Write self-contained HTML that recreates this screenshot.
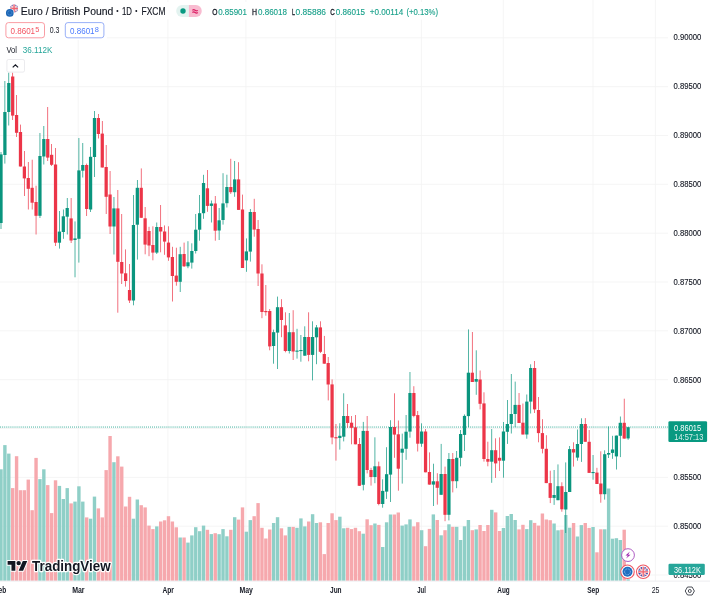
<!DOCTYPE html>
<html><head><meta charset="utf-8"><title>EURGBP</title>
<style>html,body{margin:0;padding:0;background:#fff;overflow:hidden}svg{display:block;filter:blur(0.35px)}text{font-family:"Liberation Sans",sans-serif}</style>
</head><body>
<svg width="710" height="600" viewBox="0 0 710 600">
<rect width="710" height="600" fill="#fff"/>
<g stroke="#f3f3f3" stroke-width="0.8">
<line x1="0" x2="668" y1="37.80" y2="37.80"/>
<line x1="0" x2="668" y1="86.64" y2="86.64"/>
<line x1="0" x2="668" y1="135.48" y2="135.48"/>
<line x1="0" x2="668" y1="184.32" y2="184.32"/>
<line x1="0" x2="668" y1="233.16" y2="233.16"/>
<line x1="0" x2="668" y1="282.00" y2="282.00"/>
<line x1="0" x2="668" y1="330.84" y2="330.84"/>
<line x1="0" x2="668" y1="379.68" y2="379.68"/>
<line x1="0" x2="668" y1="428.52" y2="428.52"/>
<line x1="0" x2="668" y1="477.36" y2="477.36"/>
<line x1="0" x2="668" y1="526.20" y2="526.20"/>
<line x1="0" x2="668" y1="575.04" y2="575.04"/>
<line x1="78.20" x2="78.20" y1="0" y2="581"/>
<line x1="167.90" x2="167.90" y1="0" y2="581"/>
<line x1="245.90" x2="245.90" y1="0" y2="581"/>
<line x1="335.60" x2="335.60" y1="0" y2="581"/>
<line x1="421.40" x2="421.40" y1="0" y2="581"/>
<line x1="503.30" x2="503.30" y1="0" y2="581"/>
<line x1="593.00" x2="593.00" y1="0" y2="581"/>
<line x1="655.40" x2="655.40" y1="0" y2="581"/>
</g>
<g>
<rect x="-0.70" y="469.30" width="3.4" height="111.50" fill="#8fcfc7"/>
<rect x="3.19" y="445.10" width="3.4" height="135.70" fill="#8fcfc7"/>
<rect x="7.09" y="453.60" width="3.4" height="127.20" fill="#8fcfc7"/>
<rect x="10.99" y="488.10" width="3.4" height="92.70" fill="#f6a8ad"/>
<rect x="14.88" y="456.20" width="3.4" height="124.60" fill="#f6a8ad"/>
<rect x="18.78" y="490.20" width="3.4" height="90.60" fill="#f6a8ad"/>
<rect x="22.67" y="490.20" width="3.4" height="90.60" fill="#f6a8ad"/>
<rect x="26.57" y="479.60" width="3.4" height="101.20" fill="#f6a8ad"/>
<rect x="30.46" y="510.20" width="3.4" height="70.60" fill="#f6a8ad"/>
<rect x="34.35" y="457.90" width="3.4" height="122.90" fill="#f6a8ad"/>
<rect x="38.25" y="479.10" width="3.4" height="101.70" fill="#8fcfc7"/>
<rect x="42.14" y="469.30" width="3.4" height="111.50" fill="#8fcfc7"/>
<rect x="46.04" y="485.10" width="3.4" height="95.70" fill="#f6a8ad"/>
<rect x="49.93" y="513.10" width="3.4" height="67.70" fill="#f6a8ad"/>
<rect x="53.83" y="480.30" width="3.4" height="100.50" fill="#f6a8ad"/>
<rect x="57.72" y="485.90" width="3.4" height="94.90" fill="#8fcfc7"/>
<rect x="61.62" y="499.00" width="3.4" height="81.80" fill="#8fcfc7"/>
<rect x="65.52" y="488.10" width="3.4" height="92.70" fill="#8fcfc7"/>
<rect x="69.41" y="503.40" width="3.4" height="77.40" fill="#f6a8ad"/>
<rect x="73.30" y="501.60" width="3.4" height="79.20" fill="#8fcfc7"/>
<rect x="77.20" y="486.30" width="3.4" height="94.50" fill="#8fcfc7"/>
<rect x="81.09" y="501.60" width="3.4" height="79.20" fill="#8fcfc7"/>
<rect x="84.99" y="517.40" width="3.4" height="63.40" fill="#f6a8ad"/>
<rect x="88.88" y="518.70" width="3.4" height="62.10" fill="#8fcfc7"/>
<rect x="92.78" y="496.60" width="3.4" height="84.20" fill="#8fcfc7"/>
<rect x="96.67" y="508.40" width="3.4" height="72.40" fill="#f6a8ad"/>
<rect x="100.57" y="517.40" width="3.4" height="63.40" fill="#f6a8ad"/>
<rect x="104.47" y="470.10" width="3.4" height="110.70" fill="#f6a8ad"/>
<rect x="108.36" y="436.00" width="3.4" height="144.80" fill="#f6a8ad"/>
<rect x="112.25" y="462.20" width="3.4" height="118.60" fill="#8fcfc7"/>
<rect x="116.15" y="456.30" width="3.4" height="124.50" fill="#f6a8ad"/>
<rect x="120.05" y="466.60" width="3.4" height="114.20" fill="#f6a8ad"/>
<rect x="123.94" y="506.50" width="3.4" height="74.30" fill="#f6a8ad"/>
<rect x="127.83" y="496.80" width="3.4" height="84.00" fill="#f6a8ad"/>
<rect x="131.73" y="518.70" width="3.4" height="62.10" fill="#8fcfc7"/>
<rect x="135.62" y="499.50" width="3.4" height="81.30" fill="#8fcfc7"/>
<rect x="139.52" y="505.20" width="3.4" height="75.60" fill="#f6a8ad"/>
<rect x="143.42" y="507.40" width="3.4" height="73.40" fill="#f6a8ad"/>
<rect x="147.31" y="525.60" width="3.4" height="55.20" fill="#f6a8ad"/>
<rect x="151.21" y="529.10" width="3.4" height="51.70" fill="#f6a8ad"/>
<rect x="155.10" y="526.40" width="3.4" height="54.40" fill="#8fcfc7"/>
<rect x="159.00" y="521.50" width="3.4" height="59.30" fill="#f6a8ad"/>
<rect x="162.89" y="520.30" width="3.4" height="60.50" fill="#f6a8ad"/>
<rect x="166.79" y="516.20" width="3.4" height="64.60" fill="#f6a8ad"/>
<rect x="170.68" y="521.50" width="3.4" height="59.30" fill="#f6a8ad"/>
<rect x="174.58" y="527.30" width="3.4" height="53.50" fill="#f6a8ad"/>
<rect x="178.47" y="537.50" width="3.4" height="43.30" fill="#8fcfc7"/>
<rect x="182.37" y="537.50" width="3.4" height="43.30" fill="#f6a8ad"/>
<rect x="186.26" y="542.60" width="3.4" height="38.20" fill="#8fcfc7"/>
<rect x="190.16" y="535.40" width="3.4" height="45.40" fill="#8fcfc7"/>
<rect x="194.05" y="527.20" width="3.4" height="53.60" fill="#8fcfc7"/>
<rect x="197.95" y="531.20" width="3.4" height="49.60" fill="#8fcfc7"/>
<rect x="201.84" y="525.60" width="3.4" height="55.20" fill="#8fcfc7"/>
<rect x="205.74" y="529.80" width="3.4" height="51.00" fill="#f6a8ad"/>
<rect x="209.63" y="534.10" width="3.4" height="46.70" fill="#8fcfc7"/>
<rect x="213.53" y="533.20" width="3.4" height="47.60" fill="#f6a8ad"/>
<rect x="217.42" y="534.20" width="3.4" height="46.60" fill="#8fcfc7"/>
<rect x="221.32" y="529.10" width="3.4" height="51.70" fill="#8fcfc7"/>
<rect x="225.21" y="536.30" width="3.4" height="44.50" fill="#8fcfc7"/>
<rect x="229.11" y="529.80" width="3.4" height="51.00" fill="#f6a8ad"/>
<rect x="233.00" y="517.20" width="3.4" height="63.60" fill="#8fcfc7"/>
<rect x="236.90" y="519.60" width="3.4" height="61.20" fill="#f6a8ad"/>
<rect x="240.79" y="507.40" width="3.4" height="73.40" fill="#f6a8ad"/>
<rect x="244.69" y="531.70" width="3.4" height="49.10" fill="#8fcfc7"/>
<rect x="248.58" y="520.10" width="3.4" height="60.70" fill="#8fcfc7"/>
<rect x="252.48" y="516.20" width="3.4" height="64.60" fill="#f6a8ad"/>
<rect x="256.37" y="503.10" width="3.4" height="77.70" fill="#f6a8ad"/>
<rect x="260.26" y="527.80" width="3.4" height="53.00" fill="#f6a8ad"/>
<rect x="264.16" y="538.50" width="3.4" height="42.30" fill="#f6a8ad"/>
<rect x="268.06" y="529.50" width="3.4" height="51.30" fill="#f6a8ad"/>
<rect x="271.95" y="523.00" width="3.4" height="57.80" fill="#8fcfc7"/>
<rect x="275.85" y="517.20" width="3.4" height="63.60" fill="#8fcfc7"/>
<rect x="279.74" y="528.30" width="3.4" height="52.50" fill="#f6a8ad"/>
<rect x="283.63" y="535.40" width="3.4" height="45.40" fill="#f6a8ad"/>
<rect x="287.53" y="526.90" width="3.4" height="53.90" fill="#8fcfc7"/>
<rect x="291.43" y="526.90" width="3.4" height="53.90" fill="#f6a8ad"/>
<rect x="295.32" y="527.80" width="3.4" height="53.00" fill="#8fcfc7"/>
<rect x="299.22" y="518.40" width="3.4" height="62.40" fill="#8fcfc7"/>
<rect x="303.11" y="526.40" width="3.4" height="54.40" fill="#8fcfc7"/>
<rect x="307.00" y="521.50" width="3.4" height="59.30" fill="#f6a8ad"/>
<rect x="310.90" y="514.20" width="3.4" height="66.60" fill="#8fcfc7"/>
<rect x="314.80" y="523.00" width="3.4" height="57.80" fill="#8fcfc7"/>
<rect x="318.69" y="522.30" width="3.4" height="58.50" fill="#f6a8ad"/>
<rect x="322.59" y="554.10" width="3.4" height="26.70" fill="#f6a8ad"/>
<rect x="326.48" y="523.00" width="3.4" height="57.80" fill="#f6a8ad"/>
<rect x="330.38" y="513.30" width="3.4" height="67.50" fill="#f6a8ad"/>
<rect x="334.27" y="520.10" width="3.4" height="60.70" fill="#f6a8ad"/>
<rect x="338.17" y="516.70" width="3.4" height="64.10" fill="#8fcfc7"/>
<rect x="342.06" y="528.30" width="3.4" height="52.50" fill="#8fcfc7"/>
<rect x="345.96" y="527.80" width="3.4" height="53.00" fill="#f6a8ad"/>
<rect x="349.85" y="529.10" width="3.4" height="51.70" fill="#f6a8ad"/>
<rect x="353.75" y="527.80" width="3.4" height="53.00" fill="#f6a8ad"/>
<rect x="357.64" y="531.20" width="3.4" height="49.60" fill="#f6a8ad"/>
<rect x="361.54" y="533.70" width="3.4" height="47.10" fill="#8fcfc7"/>
<rect x="365.43" y="519.30" width="3.4" height="61.50" fill="#f6a8ad"/>
<rect x="369.32" y="525.20" width="3.4" height="55.60" fill="#f6a8ad"/>
<rect x="373.22" y="523.50" width="3.4" height="57.30" fill="#8fcfc7"/>
<rect x="377.12" y="524.90" width="3.4" height="55.90" fill="#f6a8ad"/>
<rect x="381.01" y="547.00" width="3.4" height="33.80" fill="#8fcfc7"/>
<rect x="384.91" y="522.30" width="3.4" height="58.50" fill="#8fcfc7"/>
<rect x="388.80" y="514.50" width="3.4" height="66.30" fill="#8fcfc7"/>
<rect x="392.69" y="514.50" width="3.4" height="66.30" fill="#f6a8ad"/>
<rect x="396.59" y="512.50" width="3.4" height="68.30" fill="#f6a8ad"/>
<rect x="400.49" y="525.60" width="3.4" height="55.20" fill="#8fcfc7"/>
<rect x="404.38" y="524.40" width="3.4" height="56.40" fill="#8fcfc7"/>
<rect x="408.28" y="519.40" width="3.4" height="61.40" fill="#8fcfc7"/>
<rect x="412.17" y="526.40" width="3.4" height="54.40" fill="#f6a8ad"/>
<rect x="416.06" y="522.20" width="3.4" height="58.60" fill="#f6a8ad"/>
<rect x="419.96" y="530.20" width="3.4" height="50.60" fill="#8fcfc7"/>
<rect x="423.86" y="546.20" width="3.4" height="34.60" fill="#f6a8ad"/>
<rect x="427.75" y="528.90" width="3.4" height="51.90" fill="#f6a8ad"/>
<rect x="431.65" y="514.40" width="3.4" height="66.40" fill="#8fcfc7"/>
<rect x="435.54" y="520.00" width="3.4" height="60.80" fill="#f6a8ad"/>
<rect x="439.44" y="535.30" width="3.4" height="45.50" fill="#8fcfc7"/>
<rect x="443.33" y="530.20" width="3.4" height="50.60" fill="#f6a8ad"/>
<rect x="447.23" y="524.30" width="3.4" height="56.50" fill="#8fcfc7"/>
<rect x="451.12" y="526.80" width="3.4" height="54.00" fill="#f6a8ad"/>
<rect x="455.01" y="526.80" width="3.4" height="54.00" fill="#8fcfc7"/>
<rect x="458.91" y="540.00" width="3.4" height="40.80" fill="#8fcfc7"/>
<rect x="462.81" y="526.30" width="3.4" height="54.50" fill="#8fcfc7"/>
<rect x="466.70" y="520.00" width="3.4" height="60.80" fill="#8fcfc7"/>
<rect x="470.60" y="530.20" width="3.4" height="50.60" fill="#f6a8ad"/>
<rect x="474.49" y="529.40" width="3.4" height="51.40" fill="#8fcfc7"/>
<rect x="478.38" y="525.00" width="3.4" height="55.80" fill="#f6a8ad"/>
<rect x="482.28" y="531.00" width="3.4" height="49.80" fill="#f6a8ad"/>
<rect x="486.18" y="525.00" width="3.4" height="55.80" fill="#f6a8ad"/>
<rect x="490.07" y="509.80" width="3.4" height="71.00" fill="#8fcfc7"/>
<rect x="493.97" y="512.40" width="3.4" height="68.40" fill="#f6a8ad"/>
<rect x="497.86" y="531.00" width="3.4" height="49.80" fill="#f6a8ad"/>
<rect x="501.75" y="528.00" width="3.4" height="52.80" fill="#8fcfc7"/>
<rect x="505.65" y="516.00" width="3.4" height="64.80" fill="#8fcfc7"/>
<rect x="509.55" y="514.00" width="3.4" height="66.80" fill="#8fcfc7"/>
<rect x="513.44" y="520.00" width="3.4" height="60.80" fill="#8fcfc7"/>
<rect x="517.33" y="529.40" width="3.4" height="51.40" fill="#f6a8ad"/>
<rect x="521.23" y="524.80" width="3.4" height="56.00" fill="#f6a8ad"/>
<rect x="525.12" y="529.10" width="3.4" height="51.70" fill="#8fcfc7"/>
<rect x="529.02" y="520.20" width="3.4" height="60.60" fill="#8fcfc7"/>
<rect x="532.91" y="522.90" width="3.4" height="57.90" fill="#f6a8ad"/>
<rect x="536.81" y="525.60" width="3.4" height="55.20" fill="#f6a8ad"/>
<rect x="540.70" y="513.50" width="3.4" height="67.30" fill="#f6a8ad"/>
<rect x="544.60" y="519.50" width="3.4" height="61.30" fill="#f6a8ad"/>
<rect x="548.50" y="520.20" width="3.4" height="60.60" fill="#f6a8ad"/>
<rect x="552.39" y="523.50" width="3.4" height="57.30" fill="#8fcfc7"/>
<rect x="556.28" y="530.30" width="3.4" height="50.50" fill="#8fcfc7"/>
<rect x="560.18" y="529.70" width="3.4" height="51.10" fill="#f6a8ad"/>
<rect x="564.07" y="515.00" width="3.4" height="65.80" fill="#8fcfc7"/>
<rect x="567.97" y="527.70" width="3.4" height="53.10" fill="#8fcfc7"/>
<rect x="571.87" y="523.00" width="3.4" height="57.80" fill="#f6a8ad"/>
<rect x="575.76" y="536.50" width="3.4" height="44.30" fill="#8fcfc7"/>
<rect x="579.65" y="525.10" width="3.4" height="55.70" fill="#8fcfc7"/>
<rect x="583.55" y="523.00" width="3.4" height="57.80" fill="#f6a8ad"/>
<rect x="587.44" y="527.90" width="3.4" height="52.90" fill="#f6a8ad"/>
<rect x="591.34" y="527.00" width="3.4" height="53.80" fill="#8fcfc7"/>
<rect x="595.24" y="552.30" width="3.4" height="28.50" fill="#f6a8ad"/>
<rect x="599.13" y="529.30" width="3.4" height="51.50" fill="#f6a8ad"/>
<rect x="603.02" y="529.30" width="3.4" height="51.50" fill="#8fcfc7"/>
<rect x="606.92" y="488.50" width="3.4" height="92.30" fill="#8fcfc7"/>
<rect x="610.81" y="538.70" width="3.4" height="42.10" fill="#8fcfc7"/>
<rect x="614.71" y="538.20" width="3.4" height="42.60" fill="#8fcfc7"/>
<rect x="618.60" y="540.00" width="3.4" height="40.80" fill="#8fcfc7"/>
<rect x="622.50" y="529.70" width="3.4" height="51.10" fill="#f6a8ad"/>
<rect x="626.39" y="579.30" width="3.4" height="1.50" fill="#8fcfc7"/>
</g>
<line x1="0" x2="668.4" y1="427.05" y2="427.05" stroke="#089981" stroke-width="1" stroke-dasharray="0.75 1.2"/>
<g>
<rect x="0.65" y="152.00" width="0.7" height="77.00" fill="#0a957e"/>
<rect x="-0.62" y="154.40" width="3.25" height="68.60" fill="#0a957e"/>
<rect x="4.54" y="81.00" width="0.7" height="82.60" fill="#0a957e"/>
<rect x="3.27" y="112.00" width="3.25" height="43.00" fill="#0a957e"/>
<rect x="8.44" y="72.70" width="0.7" height="52.80" fill="#0a957e"/>
<rect x="7.16" y="83.00" width="3.25" height="29.00" fill="#0a957e"/>
<rect x="12.34" y="72.70" width="0.7" height="47.30" fill="#ec3548"/>
<rect x="11.06" y="76.50" width="3.25" height="39.10" fill="#ec3548"/>
<rect x="16.23" y="95.00" width="0.7" height="42.00" fill="#ec3548"/>
<rect x="14.95" y="115.00" width="3.25" height="17.80" fill="#ec3548"/>
<rect x="20.12" y="124.60" width="0.7" height="41.90" fill="#ec3548"/>
<rect x="18.85" y="132.00" width="3.25" height="34.50" fill="#ec3548"/>
<rect x="24.02" y="151.00" width="0.7" height="45.00" fill="#ec3548"/>
<rect x="22.75" y="166.50" width="3.25" height="11.90" fill="#ec3548"/>
<rect x="27.91" y="162.00" width="0.7" height="47.50" fill="#ec3548"/>
<rect x="26.64" y="178.00" width="3.25" height="10.80" fill="#ec3548"/>
<rect x="31.81" y="159.70" width="0.7" height="49.80" fill="#ec3548"/>
<rect x="30.53" y="187.80" width="3.25" height="14.90" fill="#ec3548"/>
<rect x="35.70" y="185.70" width="0.7" height="48.80" fill="#ec3548"/>
<rect x="34.43" y="202.00" width="3.25" height="13.80" fill="#ec3548"/>
<rect x="39.60" y="133.00" width="0.7" height="85.00" fill="#0a957e"/>
<rect x="38.33" y="156.00" width="3.25" height="59.80" fill="#0a957e"/>
<rect x="43.49" y="126.00" width="0.7" height="38.50" fill="#0a957e"/>
<rect x="42.22" y="139.00" width="3.25" height="17.50" fill="#0a957e"/>
<rect x="47.39" y="107.00" width="0.7" height="54.00" fill="#ec3548"/>
<rect x="46.12" y="139.00" width="3.25" height="18.60" fill="#ec3548"/>
<rect x="51.28" y="144.00" width="0.7" height="22.00" fill="#ec3548"/>
<rect x="50.01" y="154.80" width="3.25" height="10.00" fill="#ec3548"/>
<rect x="55.18" y="148.00" width="0.7" height="98.00" fill="#ec3548"/>
<rect x="53.91" y="164.50" width="3.25" height="78.20" fill="#ec3548"/>
<rect x="59.07" y="211.00" width="0.7" height="37.60" fill="#0a957e"/>
<rect x="57.80" y="231.60" width="3.25" height="11.10" fill="#0a957e"/>
<rect x="62.97" y="209.50" width="0.7" height="29.30" fill="#0a957e"/>
<rect x="61.70" y="216.30" width="3.25" height="15.70" fill="#0a957e"/>
<rect x="66.87" y="198.00" width="0.7" height="36.50" fill="#0a957e"/>
<rect x="65.59" y="208.00" width="3.25" height="8.70" fill="#0a957e"/>
<rect x="70.76" y="198.00" width="0.7" height="45.00" fill="#ec3548"/>
<rect x="69.48" y="218.40" width="3.25" height="22.10" fill="#ec3548"/>
<rect x="74.66" y="221.40" width="0.7" height="55.90" fill="#0a957e"/>
<rect x="73.38" y="238.40" width="3.25" height="1.60" fill="#0a957e"/>
<rect x="78.55" y="138.00" width="0.7" height="124.60" fill="#0a957e"/>
<rect x="77.28" y="170.40" width="3.25" height="68.40" fill="#0a957e"/>
<rect x="82.45" y="143.00" width="0.7" height="34.50" fill="#0a957e"/>
<rect x="81.17" y="165.00" width="3.25" height="5.70" fill="#0a957e"/>
<rect x="86.34" y="163.60" width="0.7" height="52.40" fill="#ec3548"/>
<rect x="85.06" y="165.00" width="3.25" height="44.00" fill="#ec3548"/>
<rect x="90.23" y="147.00" width="0.7" height="65.00" fill="#0a957e"/>
<rect x="88.96" y="156.80" width="3.25" height="52.70" fill="#0a957e"/>
<rect x="94.13" y="111.00" width="0.7" height="66.00" fill="#0a957e"/>
<rect x="92.86" y="118.00" width="3.25" height="39.00" fill="#0a957e"/>
<rect x="98.03" y="114.00" width="0.7" height="24.50" fill="#ec3548"/>
<rect x="96.75" y="118.00" width="3.25" height="16.00" fill="#ec3548"/>
<rect x="101.92" y="121.00" width="0.7" height="46.50" fill="#ec3548"/>
<rect x="100.64" y="133.60" width="3.25" height="33.90" fill="#ec3548"/>
<rect x="105.82" y="145.00" width="0.7" height="69.00" fill="#ec3548"/>
<rect x="104.54" y="167.00" width="3.25" height="29.80" fill="#ec3548"/>
<rect x="109.71" y="171.00" width="0.7" height="63.00" fill="#ec3548"/>
<rect x="108.44" y="194.50" width="3.25" height="32.00" fill="#ec3548"/>
<rect x="113.61" y="197.00" width="0.7" height="57.50" fill="#0a957e"/>
<rect x="112.33" y="208.40" width="3.25" height="18.10" fill="#0a957e"/>
<rect x="117.50" y="190.00" width="0.7" height="122.70" fill="#ec3548"/>
<rect x="116.22" y="208.40" width="3.25" height="53.40" fill="#ec3548"/>
<rect x="121.40" y="214.00" width="0.7" height="70.00" fill="#ec3548"/>
<rect x="120.12" y="262.00" width="3.25" height="11.50" fill="#ec3548"/>
<rect x="125.29" y="249.40" width="0.7" height="37.20" fill="#ec3548"/>
<rect x="124.02" y="273.30" width="3.25" height="7.70" fill="#ec3548"/>
<rect x="129.19" y="264.00" width="0.7" height="39.00" fill="#ec3548"/>
<rect x="127.91" y="290.00" width="3.25" height="10.50" fill="#ec3548"/>
<rect x="133.08" y="195.00" width="0.7" height="110.30" fill="#0a957e"/>
<rect x="131.81" y="225.00" width="3.25" height="75.50" fill="#0a957e"/>
<rect x="136.97" y="180.00" width="0.7" height="79.60" fill="#0a957e"/>
<rect x="135.70" y="187.80" width="3.25" height="36.90" fill="#0a957e"/>
<rect x="140.87" y="168.40" width="0.7" height="49.40" fill="#ec3548"/>
<rect x="139.59" y="187.80" width="3.25" height="30.00" fill="#ec3548"/>
<rect x="144.77" y="207.00" width="0.7" height="47.30" fill="#ec3548"/>
<rect x="143.49" y="218.30" width="3.25" height="26.30" fill="#ec3548"/>
<rect x="148.66" y="226.80" width="0.7" height="29.40" fill="#ec3548"/>
<rect x="147.38" y="231.00" width="3.25" height="14.50" fill="#ec3548"/>
<rect x="152.56" y="226.30" width="0.7" height="34.00" fill="#ec3548"/>
<rect x="151.28" y="245.00" width="3.25" height="7.60" fill="#ec3548"/>
<rect x="156.45" y="222.50" width="0.7" height="31.50" fill="#0a957e"/>
<rect x="155.18" y="227.00" width="3.25" height="25.60" fill="#0a957e"/>
<rect x="160.34" y="205.00" width="0.7" height="47.30" fill="#ec3548"/>
<rect x="159.07" y="227.00" width="3.25" height="4.50" fill="#ec3548"/>
<rect x="164.24" y="225.40" width="0.7" height="29.40" fill="#ec3548"/>
<rect x="162.97" y="231.50" width="3.25" height="10.10" fill="#ec3548"/>
<rect x="168.14" y="226.30" width="0.7" height="34.50" fill="#ec3548"/>
<rect x="166.86" y="242.60" width="3.25" height="14.80" fill="#ec3548"/>
<rect x="172.03" y="246.80" width="0.7" height="54.70" fill="#ec3548"/>
<rect x="170.75" y="257.00" width="3.25" height="19.00" fill="#ec3548"/>
<rect x="175.93" y="247.70" width="0.7" height="38.00" fill="#ec3548"/>
<rect x="174.65" y="275.60" width="3.25" height="6.20" fill="#ec3548"/>
<rect x="179.82" y="246.80" width="0.7" height="45.20" fill="#0a957e"/>
<rect x="178.54" y="254.20" width="3.25" height="27.60" fill="#0a957e"/>
<rect x="183.72" y="242.60" width="0.7" height="24.40" fill="#ec3548"/>
<rect x="182.44" y="254.00" width="3.25" height="12.30" fill="#ec3548"/>
<rect x="187.61" y="241.20" width="0.7" height="27.00" fill="#0a957e"/>
<rect x="186.34" y="262.30" width="3.25" height="4.00" fill="#0a957e"/>
<rect x="191.50" y="243.30" width="0.7" height="25.30" fill="#0a957e"/>
<rect x="190.23" y="251.00" width="3.25" height="11.60" fill="#0a957e"/>
<rect x="195.40" y="214.00" width="0.7" height="39.50" fill="#0a957e"/>
<rect x="194.12" y="229.70" width="3.25" height="21.30" fill="#0a957e"/>
<rect x="199.30" y="195.00" width="0.7" height="45.70" fill="#0a957e"/>
<rect x="198.02" y="213.20" width="3.25" height="16.50" fill="#0a957e"/>
<rect x="203.19" y="174.80" width="0.7" height="44.00" fill="#0a957e"/>
<rect x="201.91" y="183.00" width="3.25" height="30.20" fill="#0a957e"/>
<rect x="207.09" y="170.00" width="0.7" height="41.80" fill="#ec3548"/>
<rect x="205.81" y="188.30" width="3.25" height="17.60" fill="#ec3548"/>
<rect x="210.98" y="200.50" width="0.7" height="22.00" fill="#0a957e"/>
<rect x="209.71" y="203.50" width="3.25" height="2.40" fill="#0a957e"/>
<rect x="214.88" y="196.00" width="0.7" height="44.70" fill="#ec3548"/>
<rect x="213.60" y="203.50" width="3.25" height="27.20" fill="#ec3548"/>
<rect x="218.77" y="208.00" width="0.7" height="32.00" fill="#0a957e"/>
<rect x="217.50" y="220.30" width="3.25" height="10.20" fill="#0a957e"/>
<rect x="222.67" y="173.20" width="0.7" height="51.40" fill="#0a957e"/>
<rect x="221.39" y="203.40" width="3.25" height="16.60" fill="#0a957e"/>
<rect x="226.56" y="174.70" width="0.7" height="32.80" fill="#0a957e"/>
<rect x="225.28" y="187.00" width="3.25" height="16.20" fill="#0a957e"/>
<rect x="230.46" y="158.80" width="0.7" height="35.10" fill="#ec3548"/>
<rect x="229.18" y="187.00" width="3.25" height="5.20" fill="#ec3548"/>
<rect x="234.35" y="161.00" width="0.7" height="35.80" fill="#0a957e"/>
<rect x="233.07" y="179.40" width="3.25" height="12.80" fill="#0a957e"/>
<rect x="238.25" y="162.20" width="0.7" height="47.70" fill="#ec3548"/>
<rect x="236.97" y="179.40" width="3.25" height="30.50" fill="#ec3548"/>
<rect x="242.14" y="194.60" width="0.7" height="73.40" fill="#ec3548"/>
<rect x="240.87" y="209.50" width="3.25" height="58.50" fill="#ec3548"/>
<rect x="246.03" y="238.40" width="0.7" height="33.40" fill="#0a957e"/>
<rect x="244.76" y="251.40" width="3.25" height="9.00" fill="#0a957e"/>
<rect x="249.93" y="209.00" width="0.7" height="52.60" fill="#0a957e"/>
<rect x="248.66" y="212.00" width="3.25" height="39.60" fill="#0a957e"/>
<rect x="253.83" y="198.80" width="0.7" height="37.90" fill="#ec3548"/>
<rect x="252.55" y="212.00" width="3.25" height="17.60" fill="#ec3548"/>
<rect x="257.72" y="220.00" width="0.7" height="66.00" fill="#ec3548"/>
<rect x="256.44" y="229.00" width="3.25" height="44.50" fill="#ec3548"/>
<rect x="261.61" y="264.30" width="0.7" height="53.90" fill="#ec3548"/>
<rect x="260.34" y="273.50" width="3.25" height="38.50" fill="#ec3548"/>
<rect x="265.51" y="285.00" width="0.7" height="30.70" fill="#ec3548"/>
<rect x="264.24" y="311.00" width="3.25" height="1.20" fill="#ec3548"/>
<rect x="269.40" y="309.00" width="0.7" height="41.30" fill="#ec3548"/>
<rect x="268.13" y="311.00" width="3.25" height="35.40" fill="#ec3548"/>
<rect x="273.30" y="329.60" width="0.7" height="34.10" fill="#0a957e"/>
<rect x="272.02" y="332.20" width="3.25" height="13.80" fill="#0a957e"/>
<rect x="277.19" y="296.60" width="0.7" height="72.40" fill="#0a957e"/>
<rect x="275.92" y="307.20" width="3.25" height="25.40" fill="#0a957e"/>
<rect x="281.09" y="299.20" width="0.7" height="38.00" fill="#ec3548"/>
<rect x="279.81" y="307.20" width="3.25" height="12.80" fill="#ec3548"/>
<rect x="284.98" y="312.30" width="0.7" height="40.00" fill="#ec3548"/>
<rect x="283.71" y="325.40" width="3.25" height="25.60" fill="#ec3548"/>
<rect x="288.88" y="313.00" width="0.7" height="40.50" fill="#0a957e"/>
<rect x="287.61" y="332.20" width="3.25" height="18.80" fill="#0a957e"/>
<rect x="292.77" y="310.20" width="0.7" height="49.80" fill="#ec3548"/>
<rect x="291.50" y="332.20" width="3.25" height="19.30" fill="#ec3548"/>
<rect x="296.67" y="328.80" width="0.7" height="29.80" fill="#0a957e"/>
<rect x="295.39" y="350.60" width="3.25" height="1.10" fill="#0a957e"/>
<rect x="300.56" y="335.00" width="0.7" height="26.70" fill="#0a957e"/>
<rect x="299.29" y="350.00" width="3.25" height="1.10" fill="#0a957e"/>
<rect x="304.46" y="326.30" width="0.7" height="29.40" fill="#0a957e"/>
<rect x="303.19" y="337.00" width="3.25" height="18.70" fill="#0a957e"/>
<rect x="308.35" y="312.30" width="0.7" height="49.00" fill="#ec3548"/>
<rect x="307.08" y="337.00" width="3.25" height="17.90" fill="#ec3548"/>
<rect x="312.25" y="321.30" width="0.7" height="59.10" fill="#0a957e"/>
<rect x="310.98" y="337.00" width="3.25" height="17.90" fill="#0a957e"/>
<rect x="316.14" y="325.00" width="0.7" height="39.20" fill="#0a957e"/>
<rect x="314.87" y="327.40" width="3.25" height="9.90" fill="#0a957e"/>
<rect x="320.04" y="321.30" width="0.7" height="31.70" fill="#ec3548"/>
<rect x="318.76" y="327.40" width="3.25" height="24.40" fill="#ec3548"/>
<rect x="323.94" y="335.90" width="0.7" height="27.80" fill="#ec3548"/>
<rect x="322.66" y="354.00" width="3.25" height="9.70" fill="#ec3548"/>
<rect x="327.83" y="357.00" width="0.7" height="43.40" fill="#ec3548"/>
<rect x="326.56" y="363.00" width="3.25" height="21.50" fill="#ec3548"/>
<rect x="331.72" y="379.40" width="0.7" height="64.90" fill="#ec3548"/>
<rect x="330.45" y="384.40" width="3.25" height="53.10" fill="#ec3548"/>
<rect x="335.62" y="424.00" width="0.7" height="36.60" fill="#ec3548"/>
<rect x="334.35" y="437.20" width="3.25" height="1.10" fill="#ec3548"/>
<rect x="339.51" y="423.20" width="0.7" height="26.40" fill="#0a957e"/>
<rect x="338.24" y="435.80" width="3.25" height="2.20" fill="#0a957e"/>
<rect x="343.41" y="393.30" width="0.7" height="48.10" fill="#0a957e"/>
<rect x="342.13" y="416.00" width="3.25" height="20.70" fill="#0a957e"/>
<rect x="347.31" y="404.00" width="0.7" height="23.80" fill="#ec3548"/>
<rect x="346.03" y="416.00" width="3.25" height="7.00" fill="#ec3548"/>
<rect x="351.20" y="416.00" width="0.7" height="28.30" fill="#ec3548"/>
<rect x="349.93" y="422.70" width="3.25" height="5.10" fill="#ec3548"/>
<rect x="355.09" y="415.00" width="0.7" height="29.30" fill="#ec3548"/>
<rect x="353.82" y="427.30" width="3.25" height="17.00" fill="#ec3548"/>
<rect x="358.99" y="438.00" width="0.7" height="47.80" fill="#ec3548"/>
<rect x="357.71" y="444.00" width="3.25" height="41.80" fill="#ec3548"/>
<rect x="362.88" y="421.90" width="0.7" height="68.50" fill="#0a957e"/>
<rect x="361.61" y="430.90" width="3.25" height="53.90" fill="#0a957e"/>
<rect x="366.78" y="416.00" width="0.7" height="57.40" fill="#ec3548"/>
<rect x="365.50" y="430.90" width="3.25" height="39.10" fill="#ec3548"/>
<rect x="370.67" y="467.80" width="0.7" height="17.80" fill="#ec3548"/>
<rect x="369.40" y="470.00" width="3.25" height="7.00" fill="#ec3548"/>
<rect x="374.57" y="437.30" width="0.7" height="45.90" fill="#0a957e"/>
<rect x="373.30" y="466.30" width="3.25" height="10.70" fill="#0a957e"/>
<rect x="378.46" y="461.60" width="0.7" height="43.70" fill="#ec3548"/>
<rect x="377.19" y="466.30" width="3.25" height="37.70" fill="#ec3548"/>
<rect x="382.36" y="479.30" width="0.7" height="28.40" fill="#0a957e"/>
<rect x="381.08" y="490.90" width="3.25" height="13.10" fill="#0a957e"/>
<rect x="386.25" y="447.20" width="0.7" height="51.70" fill="#0a957e"/>
<rect x="384.98" y="474.20" width="3.25" height="17.40" fill="#0a957e"/>
<rect x="390.15" y="420.20" width="0.7" height="81.80" fill="#0a957e"/>
<rect x="388.88" y="427.00" width="3.25" height="47.60" fill="#0a957e"/>
<rect x="394.04" y="393.30" width="0.7" height="64.50" fill="#ec3548"/>
<rect x="392.77" y="427.00" width="3.25" height="7.60" fill="#ec3548"/>
<rect x="397.94" y="420.50" width="0.7" height="70.20" fill="#ec3548"/>
<rect x="396.67" y="434.30" width="3.25" height="34.40" fill="#ec3548"/>
<rect x="401.83" y="433.60" width="0.7" height="50.00" fill="#0a957e"/>
<rect x="400.56" y="448.70" width="3.25" height="4.00" fill="#0a957e"/>
<rect x="405.73" y="415.00" width="0.7" height="44.80" fill="#0a957e"/>
<rect x="404.45" y="431.70" width="3.25" height="17.10" fill="#0a957e"/>
<rect x="409.62" y="372.00" width="0.7" height="65.70" fill="#0a957e"/>
<rect x="408.35" y="393.00" width="3.25" height="38.60" fill="#0a957e"/>
<rect x="413.52" y="386.20" width="0.7" height="31.10" fill="#ec3548"/>
<rect x="412.25" y="393.00" width="3.25" height="22.90" fill="#ec3548"/>
<rect x="417.41" y="411.00" width="0.7" height="40.50" fill="#ec3548"/>
<rect x="416.14" y="415.10" width="3.25" height="28.60" fill="#ec3548"/>
<rect x="421.31" y="423.30" width="0.7" height="23.50" fill="#0a957e"/>
<rect x="420.04" y="431.50" width="3.25" height="12.20" fill="#0a957e"/>
<rect x="425.20" y="429.00" width="0.7" height="43.30" fill="#ec3548"/>
<rect x="423.93" y="431.50" width="3.25" height="40.80" fill="#ec3548"/>
<rect x="429.10" y="452.40" width="0.7" height="32.20" fill="#ec3548"/>
<rect x="427.82" y="472.00" width="3.25" height="12.60" fill="#ec3548"/>
<rect x="433.00" y="463.70" width="0.7" height="42.30" fill="#0a957e"/>
<rect x="431.72" y="481.30" width="3.25" height="3.30" fill="#0a957e"/>
<rect x="436.89" y="473.20" width="0.7" height="31.40" fill="#ec3548"/>
<rect x="435.62" y="481.30" width="3.25" height="6.50" fill="#ec3548"/>
<rect x="440.78" y="443.90" width="0.7" height="50.90" fill="#0a957e"/>
<rect x="439.51" y="474.00" width="3.25" height="20.80" fill="#0a957e"/>
<rect x="444.68" y="466.60" width="0.7" height="54.60" fill="#ec3548"/>
<rect x="443.41" y="474.00" width="3.25" height="40.80" fill="#ec3548"/>
<rect x="448.57" y="453.00" width="0.7" height="67.40" fill="#0a957e"/>
<rect x="447.30" y="459.00" width="3.25" height="55.80" fill="#0a957e"/>
<rect x="452.47" y="453.00" width="0.7" height="39.40" fill="#ec3548"/>
<rect x="451.19" y="459.00" width="3.25" height="22.20" fill="#ec3548"/>
<rect x="456.36" y="451.00" width="0.7" height="37.20" fill="#0a957e"/>
<rect x="455.09" y="457.80" width="3.25" height="23.40" fill="#0a957e"/>
<rect x="460.26" y="430.00" width="0.7" height="36.30" fill="#0a957e"/>
<rect x="458.99" y="434.00" width="3.25" height="23.80" fill="#0a957e"/>
<rect x="464.15" y="414.40" width="0.7" height="36.60" fill="#0a957e"/>
<rect x="462.88" y="415.90" width="3.25" height="19.00" fill="#0a957e"/>
<rect x="468.05" y="329.40" width="0.7" height="97.80" fill="#0a957e"/>
<rect x="466.77" y="372.70" width="3.25" height="43.40" fill="#0a957e"/>
<rect x="471.94" y="332.00" width="0.7" height="50.00" fill="#ec3548"/>
<rect x="470.67" y="372.70" width="3.25" height="9.30" fill="#ec3548"/>
<rect x="475.84" y="350.30" width="0.7" height="44.50" fill="#0a957e"/>
<rect x="474.56" y="379.00" width="3.25" height="2.70" fill="#0a957e"/>
<rect x="479.73" y="370.50" width="0.7" height="38.90" fill="#ec3548"/>
<rect x="478.46" y="379.50" width="3.25" height="24.30" fill="#ec3548"/>
<rect x="483.63" y="392.30" width="0.7" height="69.30" fill="#ec3548"/>
<rect x="482.36" y="403.40" width="3.25" height="55.60" fill="#ec3548"/>
<rect x="487.52" y="441.70" width="0.7" height="24.60" fill="#ec3548"/>
<rect x="486.25" y="459.00" width="3.25" height="2.70" fill="#ec3548"/>
<rect x="491.42" y="429.00" width="0.7" height="53.80" fill="#0a957e"/>
<rect x="490.14" y="450.20" width="3.25" height="11.50" fill="#0a957e"/>
<rect x="495.31" y="438.30" width="0.7" height="39.60" fill="#ec3548"/>
<rect x="494.04" y="450.20" width="3.25" height="13.20" fill="#ec3548"/>
<rect x="499.21" y="437.40" width="0.7" height="33.60" fill="#ec3548"/>
<rect x="497.94" y="457.80" width="3.25" height="2.90" fill="#ec3548"/>
<rect x="503.10" y="422.00" width="0.7" height="55.70" fill="#0a957e"/>
<rect x="501.83" y="431.50" width="3.25" height="29.20" fill="#0a957e"/>
<rect x="507.00" y="400.00" width="0.7" height="43.90" fill="#0a957e"/>
<rect x="505.73" y="424.00" width="3.25" height="7.80" fill="#0a957e"/>
<rect x="510.89" y="374.00" width="0.7" height="59.50" fill="#0a957e"/>
<rect x="509.62" y="414.00" width="3.25" height="10.00" fill="#0a957e"/>
<rect x="514.79" y="381.60" width="0.7" height="45.60" fill="#0a957e"/>
<rect x="513.51" y="404.90" width="3.25" height="9.10" fill="#0a957e"/>
<rect x="518.68" y="393.00" width="0.7" height="30.00" fill="#ec3548"/>
<rect x="517.41" y="404.90" width="3.25" height="18.10" fill="#ec3548"/>
<rect x="522.58" y="403.50" width="0.7" height="31.00" fill="#ec3548"/>
<rect x="521.30" y="422.70" width="3.25" height="11.80" fill="#ec3548"/>
<rect x="526.48" y="394.50" width="0.7" height="44.20" fill="#0a957e"/>
<rect x="525.20" y="401.60" width="3.25" height="32.90" fill="#0a957e"/>
<rect x="530.37" y="364.30" width="0.7" height="49.20" fill="#0a957e"/>
<rect x="529.10" y="368.00" width="3.25" height="33.60" fill="#0a957e"/>
<rect x="534.26" y="361.00" width="0.7" height="52.00" fill="#ec3548"/>
<rect x="532.99" y="368.00" width="3.25" height="41.40" fill="#ec3548"/>
<rect x="538.16" y="397.00" width="0.7" height="45.30" fill="#ec3548"/>
<rect x="536.88" y="410.00" width="3.25" height="23.10" fill="#ec3548"/>
<rect x="542.05" y="419.20" width="0.7" height="34.20" fill="#ec3548"/>
<rect x="540.78" y="433.10" width="3.25" height="15.70" fill="#ec3548"/>
<rect x="545.95" y="435.20" width="0.7" height="47.90" fill="#ec3548"/>
<rect x="544.67" y="448.80" width="3.25" height="34.30" fill="#ec3548"/>
<rect x="549.85" y="470.70" width="0.7" height="32.40" fill="#ec3548"/>
<rect x="548.57" y="483.10" width="3.25" height="14.80" fill="#ec3548"/>
<rect x="553.74" y="470.00" width="0.7" height="34.90" fill="#0a957e"/>
<rect x="552.47" y="495.00" width="3.25" height="2.90" fill="#0a957e"/>
<rect x="557.63" y="464.40" width="0.7" height="35.80" fill="#0a957e"/>
<rect x="556.36" y="486.20" width="3.25" height="14.00" fill="#0a957e"/>
<rect x="561.53" y="482.30" width="0.7" height="29.40" fill="#ec3548"/>
<rect x="560.25" y="486.20" width="3.25" height="23.10" fill="#ec3548"/>
<rect x="565.42" y="462.40" width="0.7" height="70.60" fill="#0a957e"/>
<rect x="564.15" y="492.00" width="3.25" height="17.50" fill="#0a957e"/>
<rect x="569.32" y="446.00" width="0.7" height="46.00" fill="#0a957e"/>
<rect x="568.04" y="449.10" width="3.25" height="42.90" fill="#0a957e"/>
<rect x="573.22" y="442.30" width="0.7" height="24.30" fill="#ec3548"/>
<rect x="571.94" y="449.10" width="3.25" height="3.40" fill="#ec3548"/>
<rect x="577.11" y="429.50" width="0.7" height="31.20" fill="#0a957e"/>
<rect x="575.84" y="444.00" width="3.25" height="13.60" fill="#0a957e"/>
<rect x="581.00" y="418.30" width="0.7" height="43.60" fill="#0a957e"/>
<rect x="579.73" y="424.00" width="3.25" height="20.00" fill="#0a957e"/>
<rect x="584.90" y="418.10" width="0.7" height="23.70" fill="#ec3548"/>
<rect x="583.62" y="424.00" width="3.25" height="17.80" fill="#ec3548"/>
<rect x="588.79" y="430.00" width="0.7" height="42.90" fill="#ec3548"/>
<rect x="587.52" y="441.80" width="3.25" height="31.10" fill="#ec3548"/>
<rect x="592.69" y="455.00" width="0.7" height="24.70" fill="#0a957e"/>
<rect x="591.41" y="472.00" width="3.25" height="1.10" fill="#0a957e"/>
<rect x="596.59" y="467.80" width="0.7" height="16.20" fill="#ec3548"/>
<rect x="595.31" y="472.60" width="3.25" height="11.40" fill="#ec3548"/>
<rect x="600.48" y="451.30" width="0.7" height="51.40" fill="#ec3548"/>
<rect x="599.21" y="483.50" width="3.25" height="10.70" fill="#ec3548"/>
<rect x="604.38" y="450.30" width="0.7" height="49.30" fill="#0a957e"/>
<rect x="603.10" y="454.20" width="3.25" height="40.00" fill="#0a957e"/>
<rect x="608.27" y="426.50" width="0.7" height="31.50" fill="#0a957e"/>
<rect x="607.00" y="453.00" width="3.25" height="1.60" fill="#0a957e"/>
<rect x="612.16" y="435.80" width="0.7" height="23.00" fill="#0a957e"/>
<rect x="610.89" y="449.50" width="3.25" height="3.40" fill="#0a957e"/>
<rect x="616.06" y="435.60" width="0.7" height="33.90" fill="#0a957e"/>
<rect x="614.78" y="435.60" width="3.25" height="20.80" fill="#0a957e"/>
<rect x="619.95" y="416.50" width="0.7" height="40.60" fill="#0a957e"/>
<rect x="618.68" y="422.80" width="3.25" height="13.00" fill="#0a957e"/>
<rect x="623.85" y="398.70" width="0.7" height="39.90" fill="#ec3548"/>
<rect x="622.58" y="422.80" width="3.25" height="15.80" fill="#ec3548"/>
<rect x="627.75" y="427.00" width="0.7" height="12.80" fill="#0a957e"/>
<rect x="626.47" y="427.20" width="3.25" height="11.20" fill="#0a957e"/>
</g>
<line x1="0" x2="710" y1="581.1" y2="581.1" stroke="#e8e8ee" stroke-width="0.8"/>
<g font-size="9.4" fill="#131722" stroke="#131722" stroke-width="0.12">
<text x="673.6" y="40.30" textLength="27.8" lengthAdjust="spacingAndGlyphs">0.90000</text>
<text x="673.6" y="89.19" textLength="27.8" lengthAdjust="spacingAndGlyphs">0.89500</text>
<text x="673.6" y="138.08" textLength="27.8" lengthAdjust="spacingAndGlyphs">0.89000</text>
<text x="673.6" y="186.97" textLength="27.8" lengthAdjust="spacingAndGlyphs">0.88500</text>
<text x="673.6" y="235.86" textLength="27.8" lengthAdjust="spacingAndGlyphs">0.88000</text>
<text x="673.6" y="284.75" textLength="27.8" lengthAdjust="spacingAndGlyphs">0.87500</text>
<text x="673.6" y="333.64" textLength="27.8" lengthAdjust="spacingAndGlyphs">0.87000</text>
<text x="673.6" y="382.53" textLength="27.8" lengthAdjust="spacingAndGlyphs">0.86500</text>
<text x="673.6" y="431.42" textLength="27.8" lengthAdjust="spacingAndGlyphs">0.86000</text>
<text x="673.6" y="480.31" textLength="27.8" lengthAdjust="spacingAndGlyphs">0.85500</text>
<text x="673.6" y="529.20" textLength="27.8" lengthAdjust="spacingAndGlyphs">0.85000</text>
<text x="673.6" y="578.09" textLength="27.8" lengthAdjust="spacingAndGlyphs">0.84500</text>
</g>
<g font-size="8.6" fill="#131722" text-anchor="middle">
<text x="0.40" y="592.9" font-weight="bold" textLength="11.6" lengthAdjust="spacingAndGlyphs">Feb</text>
<text x="78.40" y="592.9" font-weight="bold" textLength="12.4" lengthAdjust="spacingAndGlyphs">Mar</text>
<text x="168.10" y="592.9" font-weight="bold" textLength="11.4" lengthAdjust="spacingAndGlyphs">Apr</text>
<text x="246.10" y="592.9" font-weight="bold" textLength="13.4" lengthAdjust="spacingAndGlyphs">May</text>
<text x="335.80" y="592.9" font-weight="bold" textLength="11.6" lengthAdjust="spacingAndGlyphs">Jun</text>
<text x="421.60" y="592.9" font-weight="bold" textLength="8.6" lengthAdjust="spacingAndGlyphs">Jul</text>
<text x="503.50" y="592.9" font-weight="bold" textLength="12.4" lengthAdjust="spacingAndGlyphs">Aug</text>
<text x="593.20" y="592.9" font-weight="bold" textLength="12" lengthAdjust="spacingAndGlyphs">Sep</text>
<text x="655.60" y="592.9" textLength="7.8" lengthAdjust="spacingAndGlyphs">25</text>
</g>
<rect x="668.4" y="421.2" width="38.7" height="20.9" rx="1.3" fill="#089981"/>
<text x="674.1" y="431.1" font-size="8.8" fill="#fff" textLength="27" lengthAdjust="spacingAndGlyphs">0.86015</text>
<text x="674.3" y="440.2" font-size="8.4" fill="#fff" fill-opacity="0.85" textLength="29" lengthAdjust="spacingAndGlyphs">14:57:13</text>
<rect x="668.5" y="563.8" width="36.3" height="11.2" rx="1.3" fill="#26a69a"/>
<text x="674" y="573" font-size="8.8" fill="#fff" textLength="26.8" lengthAdjust="spacingAndGlyphs">36.112K</text>
<g transform="translate(689.8,591)" fill="none" stroke="#131722" stroke-width="0.75">
<path d="M-2.3,-4 L2.3,-4 L4.6,0 L2.3,4 L-2.3,4 L-4.6,0 Z" stroke-linejoin="round"/>
<circle r="1.5"/>
</g>
<rect x="0" y="2" width="442" height="17.5" fill="#fff"/><rect x="0" y="20.5" width="107" height="19.5" fill="#fff"/><rect x="0" y="43" width="56" height="13" fill="#fff"/>
<clipPath id="uk2"><circle cx="14.05" cy="8.5" r="3.9"/></clipPath>
<g clip-path="url(#uk2)"><rect x="10" y="4.4" width="8.2" height="8.2" fill="#4553b0"/><path d="M10.1,4.5 L18,12.5 M18,4.5 L10.1,12.5" stroke="#f7d3d9" stroke-width="1.5"/><path d="M14.05,4 V13 M9.5,8.5 H18.6" stroke="#fae1e5" stroke-width="2.5"/><path d="M14.05,4 V13 M9.5,8.5 H18.6" stroke="#ef6470" stroke-width="1.4"/></g>
<circle cx="9.8" cy="12.9" r="4.5" fill="#fff"/>
<circle cx="9.8" cy="12.9" r="3.85" fill="#1d66b5"/>
<circle cx="9.8" cy="12.9" r="2.1" fill="none" stroke="#7db6ee" stroke-width="0.75" stroke-dasharray="0.55 0.55"/>
<g font-size="10.8" fill="#131722" stroke="#131722" stroke-width="0.15">
<text x="20.8" y="14.7" textLength="92.5" lengthAdjust="spacingAndGlyphs">Euro / British Pound</text>
<text x="122" y="14.7" textLength="10.0" lengthAdjust="spacingAndGlyphs">1D</text>
<text x="141.6" y="14.7" textLength="23.9" lengthAdjust="spacingAndGlyphs">FXCM</text>
<circle cx="117.4" cy="11" r="0.95" stroke="none"/><circle cx="136.3" cy="11" r="0.95" stroke="none"/>
</g>
<clipPath id="pc"><rect x="176.2" y="5.1" width="25.6" height="11.8" rx="5.9"/></clipPath>
<g clip-path="url(#pc)"><rect x="176" y="5" width="12.9" height="12" fill="#e3f3f0"/><rect x="188.9" y="5" width="13" height="12" fill="#f8bbd0"/></g>
<circle cx="183" cy="11" r="2.7" fill="#089981"/>
<path d="M192.4,10.3 q1.3,-1.2 2.7,0 t2.7,0 M192.4,12.5 q1.3,-1.2 2.7,0 t2.7,0" fill="none" stroke="#dc1f64" stroke-width="1.15"/>
<text x="212.2" y="14.5" font-size="9.1" fill="#131722" stroke="#131722" stroke-width="0.3" textLength="5.2" lengthAdjust="spacingAndGlyphs">O</text>
<text x="218.2" y="14.5" font-size="9.1" fill="#18a08a" stroke="#18a08a" stroke-width="0.12" textLength="28.8" lengthAdjust="spacingAndGlyphs">0.85901</text>
<text x="252" y="14.5" font-size="9.1" fill="#131722" stroke="#131722" stroke-width="0.3" textLength="5.0" lengthAdjust="spacingAndGlyphs">H</text>
<text x="258" y="14.5" font-size="9.1" fill="#18a08a" stroke="#18a08a" stroke-width="0.12" textLength="29.0" lengthAdjust="spacingAndGlyphs">0.86018</text>
<text x="292" y="14.5" font-size="9.1" fill="#131722" stroke="#131722" stroke-width="0.3" textLength="3.0" lengthAdjust="spacingAndGlyphs">L</text>
<text x="295.6" y="14.5" font-size="9.1" fill="#18a08a" stroke="#18a08a" stroke-width="0.12" textLength="30.4" lengthAdjust="spacingAndGlyphs">0.85886</text>
<text x="330.3" y="14.5" font-size="9.1" fill="#131722" stroke="#131722" stroke-width="0.3" textLength="4.5" lengthAdjust="spacingAndGlyphs">C</text>
<text x="335.8" y="14.5" font-size="9.1" fill="#18a08a" stroke="#18a08a" stroke-width="0.12" textLength="29.2" lengthAdjust="spacingAndGlyphs">0.86015</text>
<text x="369.8" y="14.5" font-size="9.1" fill="#18a08a" stroke="#18a08a" stroke-width="0.12" textLength="33.5" lengthAdjust="spacingAndGlyphs">+0.00114</text>
<text x="406.4" y="14.5" font-size="9.1" fill="#18a08a" stroke="#18a08a" stroke-width="0.12" textLength="31.6" lengthAdjust="spacingAndGlyphs">(+0.13%)</text>
<rect x="5.9" y="22.6" width="38.6" height="15.2" rx="2.6" fill="#fff" stroke="#f7848d" stroke-width="0.8"/>
<text x="10.5" y="33.6" font-size="9.1" fill="#f4525f" textLength="24.6" lengthAdjust="spacingAndGlyphs">0.8601</text>
<text x="35.3" y="31.9" font-size="7.4" fill="#f4525f">5</text>
<text x="49.8" y="33.4" font-size="8.4" fill="#131722" textLength="9.7" lengthAdjust="spacingAndGlyphs">0.3</text>
<rect x="65.3" y="22.6" width="38.6" height="15.2" rx="2.6" fill="#fff" stroke="#7f9cf5" stroke-width="0.8"/>
<text x="70" y="33.6" font-size="9.1" fill="#4a7aff" textLength="24.6" lengthAdjust="spacingAndGlyphs">0.8601</text>
<text x="94.8" y="31.9" font-size="7.4" fill="#4a7aff">8</text>
<text x="6.4" y="52.5" font-size="9.1" fill="#131722" textLength="10.5" lengthAdjust="spacingAndGlyphs">Vol</text>
<text x="22.8" y="52.5" font-size="9.1" fill="#26a69a" textLength="29.6" lengthAdjust="spacingAndGlyphs">36.112K</text>
<rect x="6.9" y="59.5" width="17.6" height="12.6" rx="1.6" fill="#fff" stroke="#e2e2e6" stroke-width="0.7"/>
<path d="M12.7,67.4 L15.4,64.9 L18.1,67.4" fill="none" stroke="#131722" stroke-width="1.25"/>
<g transform="translate(7.6,558.7) scale(0.553)"><g stroke="#fff" stroke-width="3.6" stroke-linejoin="round" fill="#fff"><path d="M14 22H7V11H0V4h14v18zM28 22h-8l7.5-18h8L28 22z"/><circle cx="20" cy="8" r="4"/></g><g fill="#131722"><path d="M14 22H7V11H0V4h14v18zM28 22h-8l7.5-18h8L28 22z"/><circle cx="20" cy="8" r="4"/></g></g>
<text x="32.1" y="571.2" font-size="14" font-weight="bold" fill="#131722" stroke="#fff" stroke-width="2.4" stroke-linejoin="round" paint-order="stroke" textLength="78.5" lengthAdjust="spacingAndGlyphs">TradingView</text>
<circle cx="628" cy="555.1" r="6.4" fill="#fff" stroke="#a040b8" stroke-width="0.85"/>
<path d="M629.9,551.6 L625.5,555.5 H627.9 L626.1,558.6 L630.5,554.7 H628.1 Z" fill="#9c27b0"/>
<circle cx="627.5" cy="571.8" r="6.75" fill="#fff" stroke="#ef5763" stroke-width="1.1"/>
<circle cx="643.2" cy="571.8" r="6.75" fill="#fff" stroke="#ef5763" stroke-width="1.1"/>
<circle cx="627.5" cy="571.8" r="5" fill="#1e6ec0"/>
<circle cx="627.5" cy="571.8" r="2.9" fill="none" stroke="#b5d4f7" stroke-width="0.95" stroke-dasharray="0.7 0.82"/>
<clipPath id="uk"><circle cx="643.2" cy="571.8" r="5"/></clipPath>
<g clip-path="url(#uk)"><rect x="638" y="566.5" width="10.5" height="10.5" fill="#3949ab"/><path d="M638.2,566.8 L648.2,576.8 M648.2,566.8 L638.2,576.8" stroke="#f6c9d0" stroke-width="1.5"/><path d="M643.2,566 V578 M637,571.8 H650" stroke="#fbe3e6" stroke-width="2.6"/><path d="M643.2,566 V578 M637,571.8 H650" stroke="#f0606c" stroke-width="1.25"/></g>
</svg>
</body></html>
